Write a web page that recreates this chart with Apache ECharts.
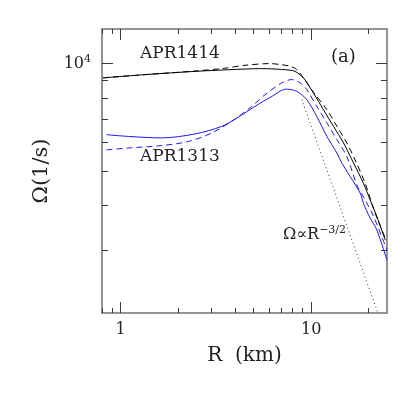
<!DOCTYPE html>
<html>
<head>
<meta charset="utf-8">
<script src="https://cdn.jsdelivr.net/npm/echarts@6/dist/echarts.min.js"></script>
<style>
  html, body { margin: 0; padding: 0; background: #fff; }
  #chart { width: 415px; height: 415px; }
</style>
</head>
<body>
<div id="chart"></div>
<script>
// R (km) vs Omega (1/s)
const apr1414Solid = [
  [0.81, 9120], [1.34, 9310], [2.46, 9510], [3.68, 9610], [5.5, 9680], [7.0, 9630],
  [7.76, 9580], [8.24, 9510], [9.11, 9120], [10.28, 8270], [11.6, 7430], [13.1, 6670],
  [14.8, 5990], [16.7, 5260], [18.8, 4620], [20.4, 4150], [22.1, 3730], [24.5, 3200],
];
const apr1414Dashed = [
  [0.81, 9120], [1.34, 9310], [2.46, 9530], [3.5, 9700], [4.5, 9890], [6.1, 10000],
  [6.87, 9940], [7.76, 9830], [8.41, 9620], [9.11, 9120], [10.3, 8300], [12.1, 7430],
  [13.65, 6670], [15.4, 5990], [17.0, 5370], [19.2, 4620], [21.5, 3850], [24.5, 3240],
];
const apr1313Solid = [
  [0.845, 6320], [1.10, 6250], [1.64, 6190], [2.46, 6350], [3.40, 6670], [4.15, 7080],
  [5.08, 7590], [6.22, 8090], [7.4, 8480], [8.41, 8360], [9.49, 7920], [10.7, 7110],
  [12.1, 6250], [13.65, 5610], [14.5, 5260], [16.0, 4830], [18.1, 4330], [18.8, 4060],
  [20.4, 3690], [22.1, 3420], [25.0, 2810],
];
const apr1313Dashed = [
  [0.845, 5730], [1.10, 5800], [1.64, 5890], [2.27, 6050], [3.01, 6390], [3.99, 6990],
  [4.88, 7590], [5.73, 8180], [7.02, 8830], [7.92, 9020], [8.76, 8830], [9.49, 8450],
  [10.7, 7590], [12.1, 6820], [13.65, 6120], [15.4, 5490], [17.4, 4560], [19.2, 4150],
  [21.25, 3730], [25.0, 3000],
];
// Omega ~ R^-3/2 guide
const powerLaw = [[8.93, 7930], [22.4, 2000]];

const xMajorTicks = [1, 10];
const xMinorTicks = [0.8, 0.9, 2, 3, 4, 5, 6, 7, 8, 9, 20];
const yMajorTicks = [10000];
const yMinorTicks = [3000, 4000, 5000, 6000, 7000, 8000, 9000];

const chart = echarts.init(document.getElementById('chart'));

const serif = "'DejaVu Serif', 'Liberation Serif', serif";
const frameColor = '#8c8c8c';
const tickColor = '#3a3a3a';

const xAxisDef = (position, ticks, len, labels) => ({
  type: 'log',
  logBase: 10,
  min: 0.8,
  max: 25,
  position,
  axisLine: { show: true, lineStyle: { color: frameColor, width: 1.5 } },
  axisTick: {
    show: true, inside: true, length: len, customValues: ticks,
    lineStyle: { color: tickColor, width: 1 },
  },
  axisLabel: {
    show: labels, customValues: xMajorTicks, margin: 9,
    fontFamily: serif, fontSize: 16, color: '#222',
  },
  splitLine: { show: false },
});

const yAxisDef = (position, ticks, len, labels) => ({
  type: 'log',
  logBase: 10,
  min: 2000,
  max: 12500,
  position,
  axisLine: { show: true, lineStyle: { color: frameColor, width: 1.5 } },
  axisTick: {
    show: true, inside: true, length: len, customValues: ticks,
    lineStyle: { color: tickColor, width: 1 },
  },
  axisLabel: {
    show: labels, customValues: yMajorTicks, margin: 11,
    fontFamily: serif, fontSize: 16, color: '#222',
    formatter: () => '10{sup|4}',
    rich: { sup: { fontFamily: serif, fontSize: 11, color: '#222', padding: [0, 0, 8, 0] } },
  },
  splitLine: { show: false },
});

const xAxes = [
  xAxisDef('bottom', xMajorTicks, 11, true),
  xAxisDef('bottom', xMinorTicks, 5, false),
  xAxisDef('top', xMajorTicks, 11, false),
  xAxisDef('top', xMinorTicks, 5, false),
];
xAxes[0].name = 'R  (km)';
xAxes[0].nameLocation = 'middle';
xAxes[0].nameGap = 33;
xAxes[0].nameTextStyle = { fontFamily: serif, fontSize: 20, color: '#222' };

const yAxes = [
  yAxisDef('left', yMajorTicks, 11, true),
  yAxisDef('left', yMinorTicks, 6, false),
  yAxisDef('right', yMajorTicks, 11, false),
  yAxisDef('right', yMinorTicks, 6, false),
];
yAxes[0].name = 'Ω(1/s)';
yAxes[0].nameLocation = 'middle';
yAxes[0].nameGap = 50;
yAxes[0].nameRotate = 90;
yAxes[0].nameTextStyle = { fontFamily: serif, fontSize: 21, color: '#222' };

const line = (data, color, type, width) => ({
  type: 'line',
  data,
  xAxisIndex: 0,
  yAxisIndex: 0,
  smooth: 0.3,
  showSymbol: false,
  lineStyle: { color, type, width },
  emphasis: { disabled: true },
  silent: true,
});

const option = {
  backgroundColor: '#fff',
  animation: false,
  grid: { left: 102, right: 28, top: 29, bottom: 102, containLabel: false },
  xAxis: xAxes,
  yAxis: yAxes,
  graphic: [
    { type: 'text', left: 140, top: 45,
      style: { text: 'APR1414', font: `17px ${serif}`, fill: '#222' } },
    { type: 'text', left: 140, top: 148,
      style: { text: 'APR1313', font: `17px ${serif}`, fill: '#222' } },
    { type: 'text', left: 331, top: 48,
      style: { text: '(a)', font: `18px ${serif}`, fill: '#222' } },
    { type: 'text', left: 283, top: 225,
      style: {
        text: 'Ω∝R{sup|−3/2}', font: `16px ${serif}`, fill: '#222',
        rich: { sup: { fontFamily: serif, fontSize: 11, fill: '#222', padding: [0, 0, 8, 0] } },
      } },
  ],
  series: [
    line(apr1414Solid, '#000', 'solid', 1),
    line(apr1414Dashed, '#000', [6, 4], 1),
    line(apr1313Solid, '#1a1aff', 'solid', 1),
    line(apr1313Dashed, '#1a1aff', [6, 4], 1),
    {
      type: 'line',
      data: powerLaw,
      showSymbol: false,
      lineStyle: { color: '#333', type: [1, 3], width: 1 },
      silent: true,
    },
  ],
};

chart.setOption(option);
</script>
</body>
</html>
